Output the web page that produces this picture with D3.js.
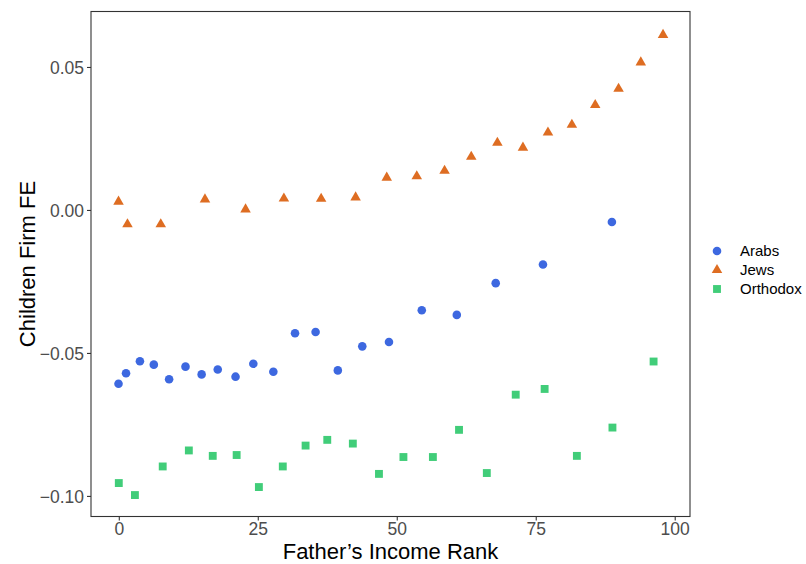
<!DOCTYPE html>
<html>
<head>
<meta charset="utf-8">
<script src="https://cdn.jsdelivr.net/npm/d3@7"></script>
<style>
  html, body { margin: 0; padding: 0; background: #fff; }
  svg { display: block; font-family: "Liberation Sans", Arial, Helvetica, sans-serif; }
</style>
</head>
<body>
<svg id="chart" width="806" height="564"></svg>
<script>
// Father's income rank (x) and children firm fixed effect (y) by group
const arabsRank = [-0.05, 1.3, 3.8, 6.3, 9.05, 12.0, 14.9, 17.8, 21.0, 24.2, 27.8, 31.7, 35.4, 39.4, 43.8, 48.6, 54.5, 60.8, 67.8, 76.3, 88.7];
const arabsFE   = [-0.0608, -0.0571, -0.0529, -0.0541, -0.0592, -0.0548, -0.0575, -0.0558, -0.0583, -0.0538, -0.0566, -0.0431, -0.0427, -0.0561, -0.0477, -0.0462, -0.0351, -0.0367, -0.0256, -0.0191, -0.0042];

const jewsRank = [-0.05, 1.56, 7.55, 15.5, 22.8, 29.7, 36.4, 42.6, 48.2, 53.6, 58.6, 63.4, 68.1, 72.7, 77.2, 81.5, 85.7, 89.9, 93.9, 97.9];
const jewsFE   = [0.0029, -0.0050, -0.0050, 0.0037, 0.0002, 0.0040, 0.0039, 0.0044, 0.0113, 0.0118, 0.0137, 0.0186, 0.0235, 0.0218, 0.0271, 0.0298, 0.0367, 0.0424, 0.0516, 0.0612];

const orthodoxRank = [0, 2.9, 7.9, 12.6, 16.9, 21.2, 25.2, 29.5, 33.6, 37.5, 42.1, 46.8, 51.2, 56.5, 61.2, 66.2, 71.4, 76.6, 82.4, 88.8, 96.2];
const orthodoxFE   = [-0.0955, -0.0997, -0.0897, -0.0841, -0.0860, -0.0857, -0.0969, -0.0897, -0.0824, -0.0804, -0.0817, -0.0923, -0.0864, -0.0864, -0.0769, -0.0920, -0.0646, -0.0626, -0.0860, -0.0761, -0.0530];

const xTicks = [0, 25, 50, 75, 100];
const yTicks = [-0.10, -0.05, 0.00, 0.05];

const groups = [
  { name: "Arabs",    rank: arabsRank,    fe: arabsFE,    color: "#3d68e0", symbol: d3.symbolCircle,   size: 58 },
  { name: "Jews",     rank: jewsRank,     fe: jewsFE,     color: "#de6d22", symbol: d3.symbolTriangle, size: 48 },
  { name: "Orthodox", rank: orthodoxRank, fe: orthodoxFE, color: "#41cd79", symbol: d3.symbolSquare,   size: 62 }
];

const svg = d3.select("#chart");
const panel = { left: 91, right: 690, top: 11.5, bottom: 516.5 };

const x = d3.scaleLinear().domain([-5.0, 102.75]).range([panel.left, panel.right]);
const y = d3.scaleLinear().domain([-0.1072, 0.0694]).range([panel.bottom, panel.top]);

// Points
groups.forEach(g => {
  svg.append("g")
    .selectAll("path")
    .data(g.rank.map((r, i) => ({ r, v: g.fe[i] })))
    .join("path")
    .attr("transform", d => `translate(${x(d.r)},${y(d.v)})`)
    .attr("d", d3.symbol().type(g.symbol).size(g.size))
    .attr("fill", g.color);
});

// Axes
const fmtY = v => (v < 0 ? "\u2212" : "") + Math.abs(v).toFixed(2);

const xAxis = svg.append("g")
  .attr("transform", `translate(0,${panel.bottom})`)
  .call(d3.axisBottom(x).tickValues(xTicks).tickSize(4).tickPadding(2));
const yAxis = svg.append("g")
  .attr("transform", `translate(${panel.left},0)`)
  .call(d3.axisLeft(y).tickValues(yTicks).tickFormat(fmtY).tickSize(4).tickPadding(3));

[xAxis, yAxis].forEach(a => {
  a.select(".domain").remove();
  a.selectAll(".tick line").attr("stroke", "#333").attr("stroke-width", 1.1);
  a.selectAll(".tick text").attr("fill", "#4d4d4d").style("font-size", "17.5px")
    .style("font-family", "'Liberation Sans', Arial, sans-serif");
});
xAxis.selectAll(".tick text").attr("dy", "0.71em");
yAxis.selectAll(".tick text").attr("dy", "0.36em");

// Panel border
svg.append("rect")
  .attr("x", panel.left).attr("y", panel.top)
  .attr("width", panel.right - panel.left).attr("height", panel.bottom - panel.top)
  .attr("fill", "none").attr("stroke", "#333").attr("stroke-width", 1.1);

// Axis titles, centred on the panel
svg.append("text")
  .attr("x", (panel.left + panel.right) / 2).attr("y", 559)
  .attr("text-anchor", "middle")
  .style("font-size", "22px").attr("fill", "#000")
  .text("Father\u2019s Income Rank");

svg.append("text")
  .attr("transform", `translate(35,${(panel.top + panel.bottom) / 2}) rotate(-90)`)
  .attr("text-anchor", "middle")
  .style("font-size", "22px").attr("fill", "#000")
  .text("Children Firm FE");

// Legend
const legend = svg.append("g").attr("transform", "translate(717,251)");
groups.forEach((g, i) => {
  const row = legend.append("g").attr("transform", `translate(0,${i * 19})`);
  row.append("path")
    .attr("d", d3.symbol().type(g.symbol).size(g.size))
    .attr("fill", g.color);
  row.append("text")
    .attr("x", 23).attr("dy", "0.36em")
    .style("font-size", "15px").attr("fill", "#000")
    .text(g.name);
});
</script>
</body>
</html>
